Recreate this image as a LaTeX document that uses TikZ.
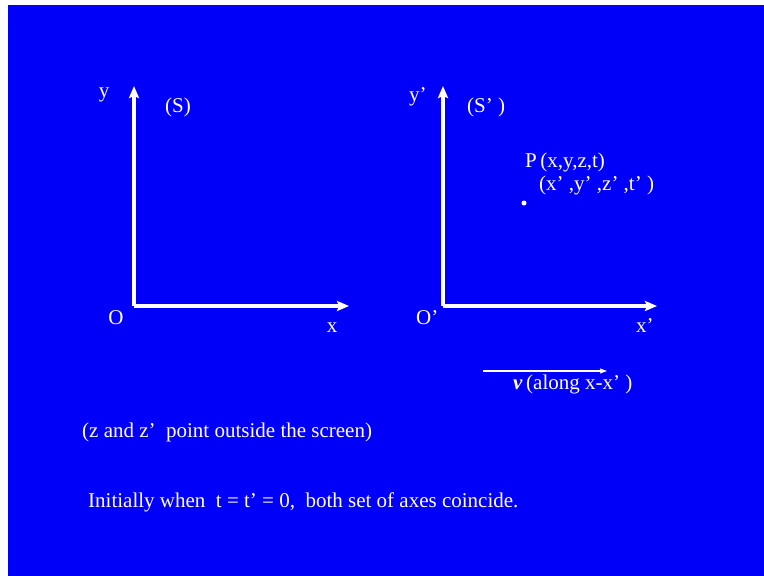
\documentclass[tikz,border=0pt]{standalone}
\usepackage{fontspec}
\setmainfont{Liberation Serif}
\usetikzlibrary{arrows.meta}
\definecolor{slide}{RGB}{0,0,250}
\tikzset{
  axis/.style={draw=white, line width=3.2pt, -{Stealth[length=12pt,width=10pt,inset=2pt]}},
  velo/.style={draw=white, line width=1.3pt, -{Stealth[length=7pt,width=5pt,inset=1pt]}},
  lbl/.style={text=white, font=\fontsize{21}{24}\selectfont, inner sep=0pt},
}
\begin{document}
\begin{tikzpicture}[x=1pt,y=-1pt]
\useasboundingbox (0,0) rectangle (764,576);
\fill[white] (0,0) rectangle (764,576);
\fill[slide] (8,5) rectangle (764,576);
% left frame S
\coordinate (O1) at (134,306);
\coordinate (Y1) at (134,86);
\coordinate (X1) at (349,306);
\draw[axis] (O1) -- (Y1);
\draw[axis] (O1) -- (X1);
\node[lbl, anchor=base] (ly) at (104,97) {y};
\node[lbl, anchor=base west] (lS) at (165,112) {(S)};
\node[lbl, anchor=base] (lO) at (116,324) {O};
\node[lbl, anchor=base] (lx) at (332,332) {x};
% right frame S'
\coordinate (O2) at (443,306);
\coordinate (Y2) at (443,86);
\coordinate (X2) at (657,306);
\draw[axis] (O2) -- (Y2);
\draw[axis] (O2) -- (X2);
\node[lbl, anchor=base west] (ly2) at (409,101) {y’};
\node[lbl, anchor=base west] (lS2) at (467,112) {(S’ )};
\node[lbl, anchor=base west] (lO2) at (416,324) {O’};
\node[lbl, anchor=base west] (lx2) at (636,332) {x’};
\node[lbl, anchor=base west] (P1) at (525,167) {P\,(x,y,z,t)};
\node[lbl, anchor=base west] (P2) at (539,190) {(x’ ,y’ ,z’ ,t’ )};
\fill[white] (524,203) circle (2.5pt);
% velocity
\coordinate (V1) at (483,371);
\coordinate (V2) at (607,371);
\draw[velo] (V1) -- (V2);
\node[lbl, anchor=base west] (vl) at (513,389) {\textbf{\textit{v}}\,(along x-x’ )};
% notes
\node[lbl, anchor=base west] (n1) at (82,437) {(z and z’\ \ point outside the screen)};
\node[lbl, anchor=base west] (n2) at (88,507) {Initially when\ \ t = t’ = 0,\ \ both set of axes coincide.};
\end{tikzpicture}
\end{document}
